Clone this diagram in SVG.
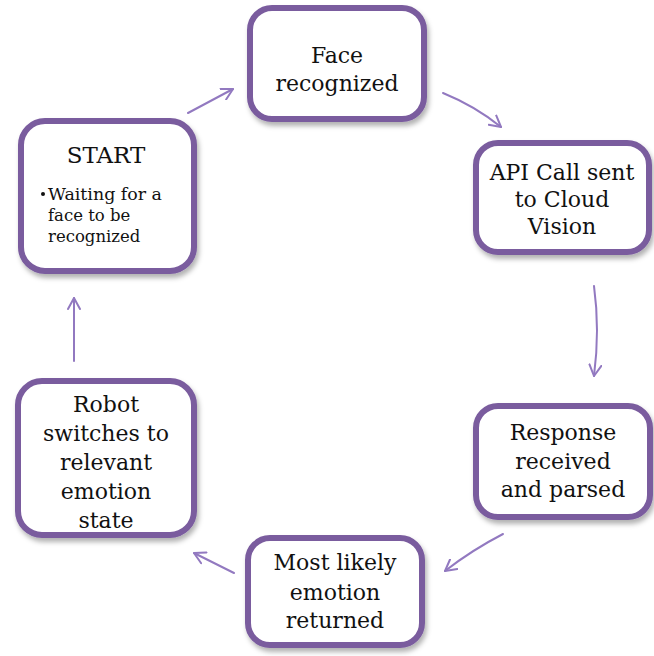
<svg xmlns="http://www.w3.org/2000/svg" width="654" height="656" viewBox="0 0 654 656">
<defs>
<filter id="sh" x="-10%" y="-10%" width="125%" height="130%">
<feDropShadow dx="2" dy="4" stdDeviation="2.5" flood-color="#000" flood-opacity="0.3"/>
</filter>
<marker id="ah" viewBox="0 0 14 14" refX="12" refY="7" markerWidth="14" markerHeight="14" markerUnits="userSpaceOnUse" orient="auto">
<path d="M1,1 L12,7 L1,13" fill="none" stroke="#9279c0" stroke-width="2" stroke-linecap="round" stroke-linejoin="round"/>
</marker>
<style>
.box{fill:#fff;stroke:#7a5c9e;stroke-width:6;filter:url(#sh)}
.t{font-family:"DejaVu Serif","Liberation Serif",serif;font-size:22px;fill:#111;text-anchor:middle}
.s{font-family:"DejaVu Serif","Liberation Serif",serif;font-size:16.5px;fill:#111}
.c{fill:none;stroke:#9279c0;stroke-width:2;stroke-linecap:round;marker-end:url(#ah)}
</style>
</defs>
<rect width="654" height="656" fill="#fff"/>
<g id="connectors">
<path class="c" d="M188,113 L233,89"/>
<path class="c" d="M443,93 Q475,106 501,127"/>
<path class="c" d="M594,286 Q600,330 594,376"/>
<path class="c" d="M503,534 Q472,550 445,571"/>
<path class="c" d="M234,573 L194,553"/>
<path class="c" d="M74,361 L74,298"/>
</g>
<g id="start">
<rect class="box" x="21" y="121" width="173" height="150" rx="24"/>
<text class="t" x="106" y="163" style="font-size:23px">START</text>
<circle cx="43" cy="194" r="2" fill="#111"/>
<text class="s" x="48" y="200" textLength="114" lengthAdjust="spacingAndGlyphs">Waiting for a</text>
<text class="s" x="48" y="221">face to be</text>
<text class="s" x="48" y="242">recognized</text>
</g>
<g id="face">
<rect class="box" x="250" y="8" width="174" height="111" rx="22"/>
<text class="t" x="337" y="63">Face</text>
<text class="t" x="337" y="91">recognized</text>
</g>
<g id="api">
<rect class="box" x="476" y="143" width="173" height="109" rx="22"/>
<text class="t" x="562" y="180">API Call sent</text>
<text class="t" x="562" y="207">to Cloud</text>
<text class="t" x="562" y="234">Vision</text>
</g>
<g id="response">
<rect class="box" x="476" y="406" width="174" height="111" rx="22"/>
<text class="t" x="563" y="440">Response</text>
<text class="t" x="563" y="469">received</text>
<text class="t" x="563" y="497">and parsed</text>
</g>
<g id="mostlikely">
<rect class="box" x="248" y="538" width="174" height="107" rx="22"/>
<text class="t" x="335" y="570">Most likely</text>
<text class="t" x="335" y="600">emotion</text>
<text class="t" x="335" y="628">returned</text>
</g>
<g id="robot">
<rect class="box" x="18" y="381" width="176" height="154" rx="24"/>
<text class="t" x="106" y="412">Robot</text>
<text class="t" x="106" y="441">switches to</text>
<text class="t" x="106" y="470">relevant</text>
<text class="t" x="106" y="499">emotion</text>
<text class="t" x="106" y="528">state</text>
</g>
</svg>
